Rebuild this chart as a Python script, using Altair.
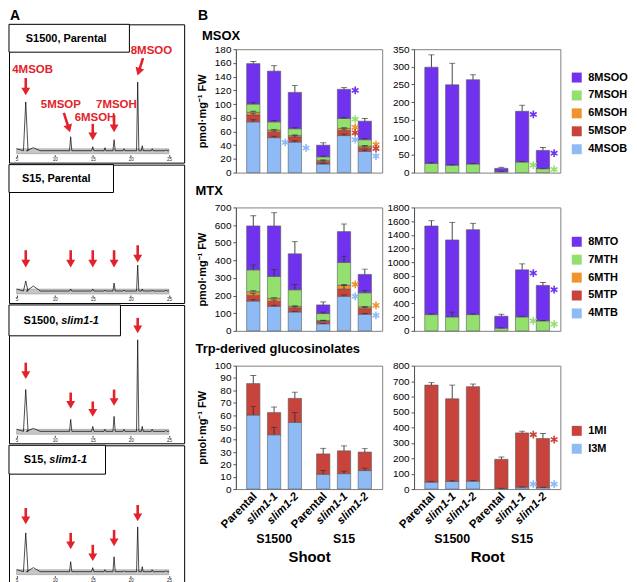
import math
import altair as alt
import pandas as pd

FONT = "Liberation Sans"
ARROW_RED = "#E3232B"
PURPLE, GREEN, ORANGE, RED, BLUE = "#7032EF", "#94E06E", "#EE932E", "#C8433B", "#8EBBF5"

# ------------------------------------------------------------------ Panel A data
chrom_names = ["S1500, Parental", "S15, Parental", "S1500, slim1-1", "S15, slim1-1"]
peak_names = ["4MSOB", "5MSOP", "6MSOH", "7MSOH", "8MSOO"]
peak_times = [6.2, 12.1, 15.0, 17.8, 20.9]          # retention time (min)
minor_times = [7.2, 16.6, 19.1, 21.5, 22.8, 24.6]
axis_ticks = [5, 10, 15, 20, 25]
run_start, run_end = 5.0, 25.0

peak_heights = {
    "S1500, Parental": [49, 14, 4, 11, 69],
    "S15, Parental": [10, 2, 2, 8, 26],
    "S1500, slim1-1": [42, 12, 5, 15, 92],
    "S15, slim1-1": [39, 10, 4, 15, 45],
}
minor_heights = {
    "S1500, Parental": [3, 3, 2, 5, 2, 1],
    "S15, Parental": [5, 1, 1, 2, 1, 1],
    "S1500, slim1-1": [3, 2, 2, 5, 2, 1],
    "S15, slim1-1": [4, 2, 1, 5, 2, 1],
}
arrow_top = {
    "S1500, Parental": [73, 38, 27, 36, 93],
    "S15, Parental": [41, 41, 41, 41, 46],
    "S1500, slim1-1": [69, 39, 30, 42, 114],
    "S15, slim1-1": [64, 39, 27, 42, 67],
}
arrow_tip = {
    "S1500, Parental": [55, 18, 10, 18, 75],
    "S15, Parental": [23, 23, 23, 23, 28],
    "S1500, slim1-1": [52, 22, 14, 25, 98],
    "S15, slim1-1": [47, 22, 10, 25, 50],
}
arrow_t_top = {
    "S1500, Parental": [6.2, 11.2, 15.0, 17.8, 21.6],
    "S15, Parental": peak_times,
    "S1500, slim1-1": peak_times,
    "S15, slim1-1": peak_times,
}
arrow_t_tip = {
    "S1500, Parental": [6.2, 12.05, 15.0, 17.8, 20.85],
    "S15, Parental": peak_times,
    "S1500, slim1-1": peak_times,
    "S15, slim1-1": peak_times,
}
label_t = [7.1, 10.8, 15.3, 18.1, 22.7]
label_s = [81, 46, 33, 46, 100]

# ------------------------------------------------------------------ Panel B data
groups = ["S1500", "S15"]
lines = ["Parental", "slim1-1", "slim1-2"]
msox_comps = ["4MSOB", "5MSOP", "6MSOH", "7MSOH", "8MSOO"]
mtx_comps = ["4MTB", "5MTP", "6MTH", "7MTH", "8MTO"]
trp_comps = ["I3M", "1MI"]
five_colors = [BLUE, RED, ORANGE, GREEN, PURPLE]
two_colors = [BLUE, RED]

# bar order: S1500 Parental, slim1-1, slim1-2, S15 Parental, slim1-1, slim1-2
msox_shoot = {
    "4MSOB": [74, 51, 44.5, 12.5, 54, 31],
    "5MSOP": [10, 8, 7.5, 3.5, 7.5, 5],
    "6MSOH": [4, 3, 2, 2, 3, 2.5],
    "7MSOH": [12, 12, 10, 5, 14.5, 9.5],
    "8MSOO": [59, 74, 53, 17, 42.5, 27],
}
msox_shoot_err = {
    "4MSOB": [3, 2, 2, 1, 2, 2],
    "5MSOP": [2, 1.5, 1.5, 1, 2, 1.5],
    "6MSOH": [1.5, 1, 1, 0.5, 1, 1],
    "7MSOH": [2, 2, 1.5, 1, 1.5, 1.5],
    "8MSOO": [3, 8, 10, 3.5, 2.5, 4],
}
msox_root = {
    "4MSOB": [0, 0, 0, 0, 0, 0],
    "5MSOP": [0, 0, 0, 0, 0, 0],
    "6MSOH": [0, 0, 0, 0, 0, 0],
    "7MSOH": [26, 21, 24.5, 3, 30, 11],
    "8MSOO": [273, 228, 239, 9, 144, 52],
}
msox_root_err = {
    "4MSOB": [0, 0, 0, 0, 0, 0],
    "5MSOP": [0, 0, 0, 0, 0, 0],
    "6MSOH": [0, 0, 0, 0, 0, 0],
    "7MSOH": [2, 1.5, 1.5, 0.5, 1.5, 1],
    "8MSOO": [35, 61, 14, 3, 17, 8],
}
mtx_shoot = {
    "4MTB": [169, 139, 107, 40, 196, 94],
    "5MTP": [32, 28, 23, 15, 41, 32],
    "6MTH": [21, 17, 9, 3, 21, 10],
    "7MTH": [124, 125, 94, 40, 130, 80],
    "8MTO": [249, 286, 204, 49, 175, 104],
}
mtx_shoot_err = {
    "4MTB": [8, 6, 4, 2, 8, 4],
    "5MTP": [12, 8, 6, 3, 20, 8],
    "6MTH": [5, 4, 3, 2, 5, 3],
    "7MTH": [28, 39, 30, 8, 35, 12],
    "8MTO": [58, 75, 69, 17, 43, 30],
}
mtx_root = {
    "4MTB": [0, 0, 0, 0, 0, 0],
    "5MTP": [0, 0, 0, 0, 0, 0],
    "6MTH": [0, 0, 0, 0, 0, 0],
    "7MTH": [237, 203, 237, 39, 203, 145],
    "8MTO": [1292, 1123, 1239, 174, 687, 518],
}
mtx_root_err = {
    "4MTB": [0, 0, 0, 0, 0, 0],
    "5MTP": [0, 0, 0, 0, 0, 0],
    "6MTH": [0, 0, 0, 0, 0, 0],
    "7MTH": [10, 70, 10, 4, 10, 6],
    "8MTO": [78, 256, 92, 29, 87, 43],
}
trp_shoot = {"I3M": [60, 44, 54, 12, 12.5, 15], "1MI": [25.5, 18, 19.5, 16.5, 18.5, 15]}
trp_shoot_err = {"I3M": [7, 6, 8, 3, 2, 2], "1MI": [6.5, 4.5, 5, 4.5, 4, 3]}
trp_root = {"I3M": [45, 49, 51, 4, 12, 10], "1MI": [629, 536, 613, 189, 352, 318]}
trp_root_err = {"I3M": [5, 5, 5, 1, 2, 2], "1MI": [16, 89, 17, 15, 11, 32]}

# significance asterisks: (bar index, compound, value)
msox_shoot_stars = [(1, "4MSOB", 44), (2, "4MSOB", 36), (4, "8MSOO", 120), (4, "7MSOH", 78),
                    (4, "6MSOH", 66), (4, "5MSOP", 58), (4, "4MSOB", 48), (5, "6MSOH", 41),
                    (5, "5MSOP", 35), (5, "4MSOB", 24)]
msox_root_stars = [(4, "8MSOO", 165), (4, "7MSOH", 21), (5, "8MSOO", 55), (5, "7MSOH", 9)]
mtx_shoot_stars = [(4, "6MTH", 263), (4, "4MTB", 196), (5, "6MTH", 145), (5, "4MTB", 88)]
mtx_root_stars = [(4, "8MTO", 842), (4, "7MTH", 145), (5, "8MTO", 600), (5, "7MTH", 97)]
trp_shoot_stars = []
trp_root_stars = [(4, "1MI", 353), (4, "I3M", 32), (5, "1MI", 321), (5, "I3M", 32)]

# asterisk glyph, drawn to the right of its bar (symbol units)
STAR_PATH = "M2.9,-1L2.9,1M2.03,-0.5L3.77,0.5M2.03,0.5L3.77,-0.5"

one = pd.DataFrame({"n": [0]})
NO_FRAME = alt.ViewBackground(strokeWidth=0, strokeOpacity=0)

# ------------------------------------------------------------------ Panel A
CW, CH = 176, 139
X_DOM = [4.0, 27.0]
box_w = [121, 105, 112, 97]
box_h = [28, 28, 31, 29]
box_text = [
    [("S1500, Parental", "center", 57.5, "normal")],
    [("S15, Parental", "center", 47.5, "normal")],
    [("S1500,", "right", 49.5, "normal"), ("slim1-1", "left", 52.5, "italic")],
    [("S15,", "right", 37.5, "normal"), ("slim1-1", "left", 40.5, "italic")],
]


def chromatogram(k, name):
    xs = alt.Scale(domain=X_DOM, nice=False, zero=False)
    ys = alt.Scale(domain=[-12, CH - 12], nice=False, zero=False)
    xaxis = alt.Axis(values=axis_ticks, title=None, offset=-8, labelFontSize=4.5, labelPadding=0,
                     tickSize=2, tickColor="#444", domain=False, labelColor="#222", grid=False,
                     labelFlush=False)

    def X(f):
        return alt.X(f, scale=xs, axis=xaxis)

    def Y(f):
        return alt.Y(f, scale=ys, axis=None)

    band = pd.DataFrame([{"t0": run_start, "t1": run_end, "lo": -3, "hi": 2}])
    band_l = alt.Chart(band).mark_rect(fill="#c6c6c6", stroke="#7a7a7a", strokeWidth=0.4).encode(
        x=X("t0:Q"), x2="t1:Q", y=Y("lo:Q"), y2="hi:Q")

    pk = [(t, h, 0.3 if j == 0 else 0.15) for j, (t, h) in enumerate(zip(peak_times, peak_heights[name]))]
    pk += [(t, h, 0.9 if j == 0 else 0.12) for j, (t, h) in enumerate(zip(minor_times, minor_heights[name]))]
    pk.sort()
    pts = [(run_start, 2.0)]
    for t, h, w in pk:
        pts += [(t - w, 0.0), (t, float(h)), (t + w, 0.0)]
    pts.append((run_end, 0.0))
    trace = pd.DataFrame([{"t": t, "s": s, "i": i} for i, (t, s) in enumerate(pts)])
    trace_l = alt.Chart(trace).mark_line(color="black", strokeWidth=0.7).encode(
        x=X("t:Q"), y=Y("s:Q"), order="i:Q")

    ppm = CW / (X_DOM[1] - X_DOM[0])
    arows = []
    for j in range(5):
        t0, t1 = arrow_t_top[name][j], arrow_t_tip[name][j]
        s0, s1 = arrow_top[name][j], arrow_tip[name][j]
        dx, dy = (t1 - t0) * ppm, s0 - s1
        L = math.hypot(dx, dy)
        th = t1 - dx / L * 4.5 / ppm
        sh = s1 + dy / L * 4.5
        ang = (-math.degrees(math.atan2(dx, dy))) % 360
        arows.append({"t0": t0, "s0": s0, "th": th, "sh": sh, "ang": ang})
    adf = pd.DataFrame(arows)
    shaft = alt.Chart(adf).mark_rule(color=ARROW_RED, strokeWidth=2.6).encode(
        x=X("t0:Q"), x2="th:Q", y=Y("s0:Q"), y2="sh:Q")
    head = alt.Chart(adf).mark_point(shape="triangle-down", filled=True, size=80, color=ARROW_RED,
                                     opacity=1, strokeWidth=0).encode(
        x=X("th:Q"), y=Y("sh:Q"), angle=alt.Angle("ang:Q", scale=None))

    layers = [band_l, trace_l, shaft, head]
    if k == 0:
        ldf = pd.DataFrame({"t": label_t, "s": label_s, "name": peak_names})
        layers.append(alt.Chart(ldf).mark_text(color=ARROW_RED, fontSize=11.5, fontWeight="bold",
                                               baseline="middle", align="center").encode(
            x=X("t:Q"), y=Y("s:Q"), text="name:N"))

    layers.append(alt.Chart(one).mark_rect(fill="white", stroke="black", strokeWidth=1).encode(
        x=alt.value(0), x2=alt.value(box_w[k]), y=alt.value(0), y2=alt.value(box_h[k])))
    for txt, al, xp, st in box_text[k]:
        layers.append(alt.Chart(one).mark_text(text=txt, align=al, baseline="middle", fontSize=11,
                                               fontWeight="bold", fontStyle=st, color="black").encode(
            x=alt.value(xp), y=alt.value(box_h[k] / 2 + 0.5)))

    return alt.layer(*layers).properties(width=CW, height=CH,
                                         view=alt.ViewBackground(stroke="black", strokeWidth=1))


headA = alt.Chart(one).mark_text(text="A", align="left", baseline="middle", fontSize=14,
                                 fontWeight="bold", color="black").encode(
    x=alt.value(1), y=alt.value(6)).properties(width=CW, height=12, view=NO_FRAME)

panelA = alt.vconcat(headA, *[chromatogram(k, n) for k, n in enumerate(chrom_names)], spacing=0)


# ------------------------------------------------------------------ Panel B
BW, BH = 147, 124


def bar_tables(comps, vals, errs):
    rows, erows = [], []
    for i in range(6):
        g, ln = groups[i // 3], lines[i % 3]
        base = 0.0
        for c in comps:
            v = vals[c][i]
            if v <= 0:
                continue
            top = base + v
            rows.append({"group": g, "line": ln, "comp": c, "lo": base, "hi": top})
            e = errs[c][i]
            if e > 0:
                erows.append({"group": g, "line": ln, "hi": top, "top": top + e})
            base = top
    return pd.DataFrame(rows), pd.DataFrame(erows)


def bar_panel(comps, colors, vals, errs, stars, ymax, ystep, is_shoot, legend_y, bottom):
    bars_df, err_df = bar_tables(comps, vals, errs)
    gx = alt.Scale(domain=groups, paddingInner=0.108, paddingOuter=0.1)
    if bottom:
        xaxis = alt.Axis(title="Shoot" if is_shoot else "Root", labelAngle=0, labelPadding=44,
                         labelFontSize=12.5, labelFontWeight="bold", labelColor="black",
                         titleFontSize=15, titleFontWeight="bold", titleColor="black",
                         titlePadding=4, ticks=False, domain=False)
    else:
        xaxis = None

    def X():
        return alt.X("group:N", sort=groups, scale=gx, axis=xaxis)

    XO = alt.XOffset("line:N", sort=lines,
                     scale=alt.Scale(domain=lines, paddingInner=0.36, paddingOuter=0.18))
    ys = alt.Scale(domain=[0, ymax], nice=False, zero=True)
    yargs = dict(values=list(range(0, ymax + 1, ystep)), format="d", labelFontSize=10,
                 labelColor="black", tickSize=3, tickColor="#555", domainColor="#555", grid=False,
                 labelPadding=2)
    if is_shoot:
        yargs.update(title="pmol·mg⁻¹ FW", titleFontSize=11, titleFontWeight="bold",
                     titleColor="black", titlePadding=5, minExtent=24, maxExtent=24)
    else:
        yargs.update(title=None, minExtent=27, maxExtent=27)
    yaxis = alt.Axis(**yargs)

    cscale = alt.Scale(domain=comps[::-1], range=colors[::-1])
    if legend_y is None:
        C = alt.Color("comp:N", scale=cscale, legend=None)
    else:
        C = alt.Color("comp:N", scale=cscale, legend=alt.Legend(
            title=None, orient="none", legendX=BW + 11, legendY=legend_y, symbolType="square",
            symbolSize=100, symbolStrokeWidth=0, labelFontSize=11, labelFontWeight="bold",
            labelColor="black", rowPadding=6, labelOffset=6, padding=0))

    layers = [
        alt.Chart(bars_df).mark_bar(stroke="#5a5a5a", strokeWidth=0.6).encode(
            x=X(), xOffset=XO, y=alt.Y("lo:Q", scale=ys, axis=yaxis), y2="hi:Q", color=C),
        alt.Chart(err_df).mark_rule(color="#333333", strokeWidth=0.9).encode(
            x=X(), xOffset=XO, y=alt.Y("hi:Q", scale=ys, axis=yaxis), y2="top:Q"),
        alt.Chart(err_df).mark_tick(color="#333333", size=6, thickness=0.9).encode(
            x=X(), xOffset=XO, y=alt.Y("top:Q", scale=ys, axis=yaxis)),
    ]
    if stars:
        sdf = pd.DataFrame([{"group": groups[i // 3], "line": lines[i % 3], "comp": c, "v": v}
                            for i, c, v in stars])
        layers.append(alt.Chart(sdf).mark_point(shape=STAR_PATH, filled=False, size=60,
                                                strokeWidth=1.6, opacity=1).encode(
            x=X(), xOffset=XO, y=alt.Y("v:Q", scale=ys, axis=yaxis), color=C))
    if bottom:
        ldf = pd.DataFrame([{"group": g, "line": l} for g in groups for l in lines])
        for style, flt in (("normal", "datum.line == 'Parental'"), ("italic", "datum.line != 'Parental'")):
            layers.append(alt.Chart(ldf).transform_filter(flt).mark_text(
                angle=315, align="right", baseline="middle", fontSize=11.5, fontWeight="bold",
                fontStyle=style, dx=3, color="black").encode(
                x=X(), xOffset=XO, y=alt.value(BH + 8), text="line:N"))
    return alt.layer(*layers).properties(width=BW, height=BH,
                                         view=alt.ViewBackground(stroke="#808080", strokeWidth=1))


def row(shoot, root, title=None):
    r = alt.hconcat(shoot, root, spacing=3).resolve_scale(
        color="independent", y="independent", x="independent")
    if title:
        r = r.properties(title=alt.TitleParams(title, anchor="start", fontSize=13,
                                               fontWeight="bold", offset=4))
    return r


row1 = row(bar_panel(msox_comps, five_colors, msox_shoot, msox_shoot_err, msox_shoot_stars, 180, 20, True, None, False),
           bar_panel(msox_comps, five_colors, msox_root, msox_root_err, msox_root_stars, 350, 50, False, 23, False))
row2 = row(bar_panel(mtx_comps, five_colors, mtx_shoot, mtx_shoot_err, mtx_shoot_stars, 700, 100, True, None, False),
           bar_panel(mtx_comps, five_colors, mtx_root, mtx_root_err, mtx_root_stars, 1800, 200, False, 29, False),
           "MTX")
row3 = row(bar_panel(trp_comps, two_colors, trp_shoot, trp_shoot_err, trp_shoot_stars, 100, 10, True, None, True),
           bar_panel(trp_comps, two_colors, trp_root, trp_root_err, trp_root_stars, 800, 100, False, 60, True),
           "Trp-derived glucosinolates")

headB = alt.layer(
    alt.Chart(one).mark_text(text="B", align="left", baseline="middle", fontSize=14,
                             fontWeight="bold", color="black").encode(x=alt.value(-38), y=alt.value(6)),
    alt.Chart(one).mark_text(text="MSOX", align="left", baseline="middle", fontSize=13,
                             fontWeight="bold", color="black").encode(x=alt.value(-34), y=alt.value(26)),
).properties(width=150, height=30, view=NO_FRAME)

top_block = alt.vconcat(headB, row1, spacing=0).resolve_scale(
    color="independent", y="independent", x="independent")

panelB = alt.vconcat(top_block, row2, row3, spacing=6).resolve_scale(
    color="independent", y="independent", x="independent")

chart = alt.hconcat(panelA, panelB, spacing=10).resolve_scale(
    x="independent", y="independent", color="independent").properties(padding=0).configure(
    font=FONT).configure_view(stroke="#808080").configure_title(font=FONT, color="black").configure_axis(
    labelFont=FONT, titleFont=FONT).configure_legend(labelFont=FONT).configure_text(font=FONT)

chart.save("out.html", embed_options={"renderer": "svg", "actions": False})
